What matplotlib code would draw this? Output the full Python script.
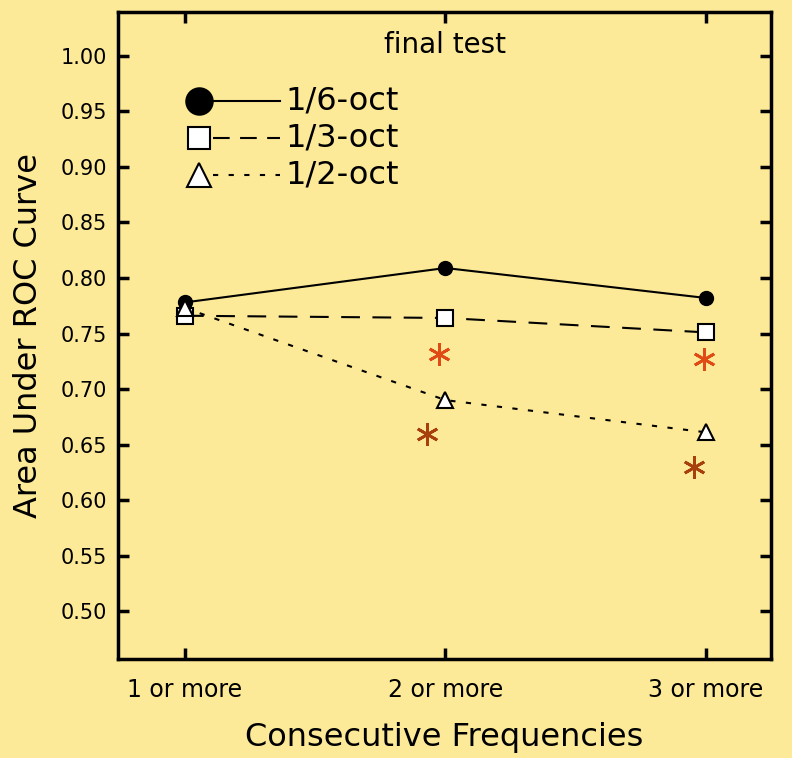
import matplotlib
matplotlib.use("Agg")
import matplotlib.pyplot as plt
from matplotlib.lines import Line2D

categories = ["1 or more", "2 or more", "3 or more"]
oct16 = [0.778, 0.809, 0.782]
oct13 = [0.766, 0.764, 0.751]
oct12 = [0.773, 0.690, 0.661]
series_labels = ["1/6-oct", "1/3-oct", "1/2-oct"]
# significance stars: (x position in category units, value)
star_hi_x = [0.975, 1.992]
star_hi_y = [0.7315, 0.727]
star_lo_x = [0.929, 1.954]
star_lo_y = [0.6595, 0.6297]
yticks = [0.50, 0.55, 0.60, 0.65, 0.70, 0.75, 0.80, 0.85, 0.90, 0.95, 1.00]

bg = "#FDEA98"
fig = plt.figure(figsize=(7.92, 7.58), dpi=100, facecolor=bg)
ax = fig.add_axes([118/792, 1-659/758, (771-118)/792, (659-12)/758])
ax.set_facecolor(bg)

x = list(range(len(categories)))
ax.plot(x, oct16, '-', color='black', lw=1.5, marker='o', ms=10,
        mfc='black', mec='black', zorder=3)
ax.plot(x, oct13, '-', color='black', lw=1.5, dashes=(9, 6), marker='s', ms=11,
        mfc='white', mec='black', mew=1.5, zorder=3)
ax.plot(x, oct12, '-', color='black', lw=1.5, dashes=(2.5, 5), marker='^', ms=11,
        mfc='white', mec='black', mew=1.5, zorder=4)

ax.plot(star_hi_x, star_hi_y, ls='none', marker=(6, 2, 0), ms=16, mew=2.0,
        color='#E04A14', zorder=2)
ax.plot(star_lo_x, star_lo_y, ls='none', marker=(6, 2, 0), ms=16, mew=2.0,
        color='#A8400E', zorder=2)

ax.set_xlim(-0.257, 2.25)
ax.set_ylim(0.4568, 1.0396)
ax.set_xticks(x)
ax.set_xticklabels(categories, fontsize=17)
ax.set_yticks(yticks)
ax.set_yticklabels([f"{v:.2f}" for v in yticks], fontsize=15)
ax.tick_params(direction='in', length=8, width=2.5, top=True, right=True,
               labeltop=False, labelright=False)
ax.tick_params(axis='x', pad=14)
ax.tick_params(axis='y', pad=8)
for s in ax.spines.values():
    s.set_linewidth(2.5)

ax.set_xlabel("Consecutive Frequencies", fontsize=23, labelpad=14)
ax.set_ylabel("Area Under ROC Curve", fontsize=23, labelpad=12)

ax.text(0.5, 0.949, "final test", transform=ax.transAxes, ha='center',
        va='center', fontsize=20)

# legend (marker at left, line to the right)
rows = [0.862, 0.805, 0.748]
styles = [
    dict(marker='o', ms=19, mfc='black', mec='black', dashes=None),
    dict(marker='s', ms=16, mfc='white', mec='black', dashes=(8, 5)),
    dict(marker='^', ms=17, mfc='white', mec='black', dashes=(2.5, 5)),
]
for yr, st, lab in zip(rows, styles, series_labels):
    ax.add_line(Line2D([0.124], [yr], transform=ax.transAxes, marker=st['marker'],
                       ms=st['ms'], mfc=st['mfc'], mec=st['mec'], mew=1.5, ls='none'))
    ln = Line2D([0.146, 0.248], [yr, yr], transform=ax.transAxes, color='black', lw=1.5)
    if st['dashes']:
        ln.set_dashes(st['dashes'])
    ax.add_line(ln)
    ax.text(0.257, yr, lab, transform=ax.transAxes, ha='left', va='center', fontsize=23)

fig.savefig("out.png", dpi=100, facecolor=bg)
